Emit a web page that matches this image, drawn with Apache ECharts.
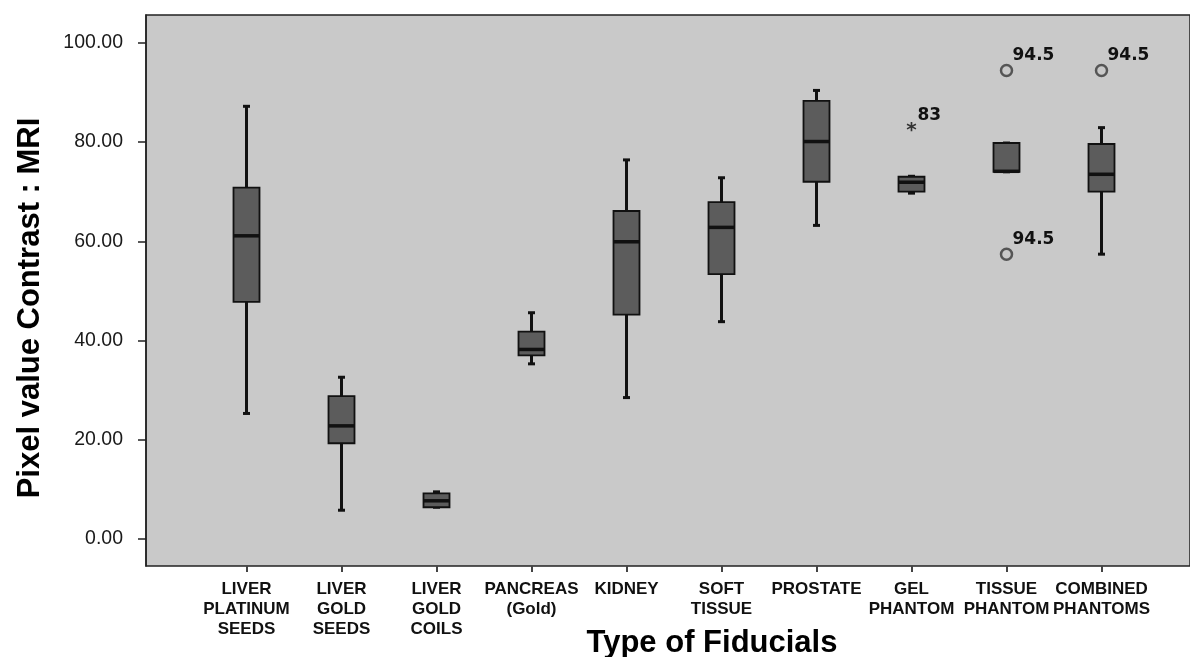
<!DOCTYPE html>
<html>
<head>
<meta charset="utf-8">
<script src="https://cdn.jsdelivr.net/npm/echarts@6/dist/echarts.min.js"></script>
<style>
html,body{margin:0;padding:0;background:#fff;}
#chart{width:1190px;height:657px;}
</style>
</head>
<body>
<div id="chart"></div>
<script>
// ---- data ----
const categories = ['LIVER\nPLATINUM\nSEEDS', 'LIVER\nGOLD\nSEEDS', 'LIVER\nGOLD\nCOILS', 'PANCREAS\n(Gold)', 'KIDNEY', 'SOFT\nTISSUE', 'PROSTATE', 'GEL\nPHANTOM', 'TISSUE\nPHANTOM', 'COMBINED\nPHANTOMS'];
const whiskerLow  = [25.3, 5.8, 6.4, 35.3, 28.5, 43.8, 63.2, 69.7, 74.0, 57.4];
const quartile1   = [47.8, 19.3, 6.4, 37.0, 45.2, 53.4, 72.0, 70.0, 74.0, 70.0];
const medians     = [61.1, 22.8, 7.7, 38.2, 59.9, 62.8, 80.1, 71.9, 74.1, 73.5];
const quartile3   = [70.8, 28.8, 9.2, 41.8, 66.1, 67.9, 88.3, 73.0, 79.8, 79.6];
const whiskerHigh = [87.2, 32.6, 9.5, 45.6, 76.4, 72.8, 90.4, 73.1, 79.8, 82.9];

const outlierCategory = [7, 8, 8, 9];
const outlierValue    = [82.8, 94.4, 57.4, 94.4];
const outlierLabel    = ['83', '94.5', '94.5', '94.5'];
const outlierKind     = ['extreme', 'outlier', 'outlier', 'outlier'];

const yTicks = [0, 20, 40, 60, 80, 100];
const yTitle = 'Pixel value Contrast : MRI';
const xTitle = 'Type of Fiducials';

// ---- build ----
const boxData = categories.map((c, i) => [i, whiskerLow[i], quartile1[i], medians[i], quartile3[i], whiskerHigh[i]]);
const outData = outlierCategory.map((c, i) => ({value: [c, outlierValue[i]], kind: outlierKind[i], label: outlierLabel[i]}));

const Y_MIN = -5.44, Y_MAX = 105.6;
const INK = '#111';

function renderBox(params, api) {
  const i = api.value(0);
  const pMin = api.coord([i, api.value(1)]);
  const pQ1 = api.coord([i, api.value(2)]);
  const pMed = api.coord([i, api.value(3)]);
  const pQ3 = api.coord([i, api.value(4)]);
  const pMax = api.coord([i, api.value(5)]);
  const x = pMin[0];
  const hw = 13, cap = 3.5;
  const lineStyle = {stroke: INK, lineWidth: 3};
  return {
    type: 'group',
    children: [
      {type: 'line', shape: {x1: x, y1: pMax[1], x2: x, y2: pQ3[1]}, style: lineStyle},
      {type: 'line', shape: {x1: x, y1: pQ1[1], x2: x, y2: pMin[1]}, style: lineStyle},
      {type: 'line', shape: {x1: x - cap, y1: pMax[1], x2: x + cap, y2: pMax[1]}, style: lineStyle},
      {type: 'line', shape: {x1: x - cap, y1: pMin[1], x2: x + cap, y2: pMin[1]}, style: lineStyle},
      {type: 'rect', shape: {x: x - hw, y: pQ3[1], width: hw * 2, height: Math.max(pQ1[1] - pQ3[1], 1)},
        style: {fill: '#5c5c5c', stroke: INK, lineWidth: 1.8}},
      {type: 'line', shape: {x1: x - hw, y1: pMed[1], x2: x + hw, y2: pMed[1]}, style: {stroke: INK, lineWidth: 3.5}}
    ]
  };
}

function renderOutlier(params, api) {
  const p = api.coord([api.value(0), api.value(1)]);
  const d = outData[params.dataIndex];
  const children = [];
  const font = 'bold 17px "DejaVu Sans"';
  if (d.kind === 'outlier') {
    children.push({type: 'circle', shape: {cx: p[0], cy: p[1], r: 5.5}, style: {fill: 'none', stroke: '#555', lineWidth: 2.5}});
    children.push({type: 'text', x: p[0] + 6, y: p[1] - 15,
      style: {text: d.label, fill: INK, font: font, align: 'left', verticalAlign: 'middle'}});
  } else {
    children.push({type: 'text', x: p[0], y: p[1] + 3,
      style: {text: '*', fill: '#333', font: 'bold 20px "DejaVu Sans"', align: 'center', verticalAlign: 'middle'}});
    children.push({type: 'text', x: p[0] + 6, y: p[1] - 13,
      style: {text: d.label, fill: INK, font: font, align: 'left', verticalAlign: 'middle'}});
  }
  return {type: 'group', children};
}

const chart = echarts.init(document.getElementById('chart'), null, {renderer: 'canvas'});
chart.setOption({
  animation: false,
  backgroundColor: '#fff',
  grid: [
    {left: 146, right: 0, top: 15, bottom: 91, show: true, backgroundColor: '#c9c9c9', borderColor: '#222', borderWidth: 1.5},
    {left: 199, right: 41, top: 15, bottom: 91}
  ],
  xAxis: [
    {gridIndex: 0, type: 'value', min: 0, max: 1, show: false},
    {gridIndex: 1, type: 'category', data: categories, boundaryGap: true, position: 'bottom',
      axisLine: {show: false, onZero: false},
      axisTick: {show: true, alignWithLabel: true, length: 6, lineStyle: {color: '#444', width: 2}},
      axisLabel: {interval: 0, margin: 13, color: INK, fontFamily: 'Liberation Sans, Arial, sans-serif', fontWeight: 'bold', fontSize: 17, lineHeight: 20, verticalAlign: 'top'},
      splitLine: {show: false}}
  ],
  yAxis: [
    {gridIndex: 0, type: 'value', min: Y_MIN, max: Y_MAX,
      axisLine: {show: true, lineStyle: {color: '#222', width: 1.5}},
      axisTick: {show: true, length: 8, customValues: yTicks, lineStyle: {color: '#222', width: 1.5}},
      axisLabel: {customValues: yTicks, margin: 23, color: '#1a1a1a', fontFamily: 'Liberation Sans, Arial, sans-serif', fontSize: 19.5,
        formatter: v => v.toFixed(2)},
      splitLine: {show: false}},
    {gridIndex: 1, type: 'value', min: Y_MIN, max: Y_MAX, show: false, splitLine: {show: false}}
  ],
  graphic: [
    {type: 'text', x: 30, y: 308, rotation: Math.PI / 2,
      style: {text: yTitle, fill: '#000', font: 'bold 31px "Liberation Sans", Arial, sans-serif', align: 'center', verticalAlign: 'middle'}},
    {type: 'text', x: 712, y: 643,
      style: {text: xTitle, fill: '#000', font: 'bold 31px "Liberation Sans", Arial, sans-serif', align: 'center', verticalAlign: 'middle'}}
  ],
  series: [
    {type: 'custom', xAxisIndex: 1, yAxisIndex: 1, renderItem: renderBox, data: boxData,
      encode: {x: 0, y: [1, 2, 3, 4, 5]}, clip: false},
    {type: 'custom', xAxisIndex: 1, yAxisIndex: 1, renderItem: renderOutlier, data: outData.map(d => d.value),
      encode: {x: 0, y: 1}, clip: false}
  ]
});
</script>
</body>
</html>
